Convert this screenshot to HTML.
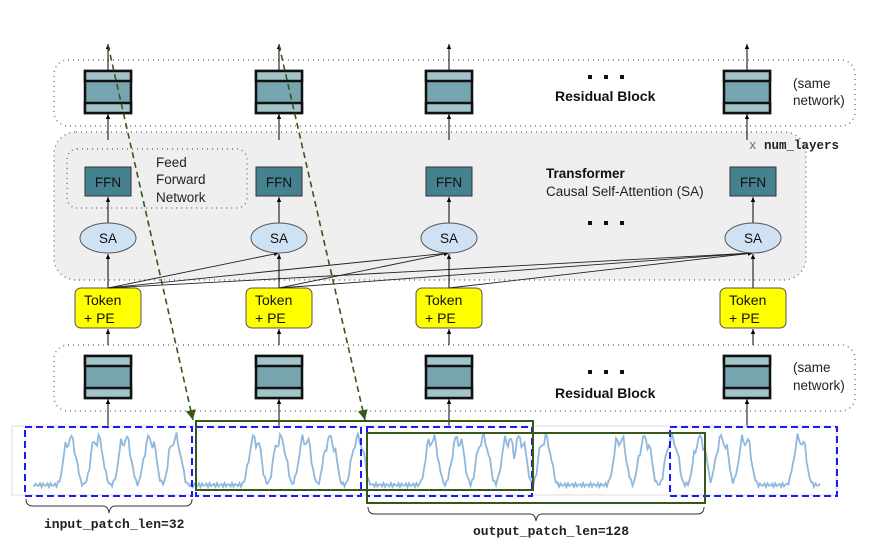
<!DOCTYPE html>
<html><head><meta charset="utf-8"><style>
html,body{margin:0;padding:0;background:#fff}
svg{display:block}
text{font-family:"Liberation Sans",sans-serif}
.mono{font-family:"Liberation Mono",monospace;font-weight:bold}
</style></head><body>
<svg id="s" width="878" height="546" viewBox="0 0 878 546" xmlns="http://www.w3.org/2000/svg">
<defs>
<marker id="sm" markerWidth="6" markerHeight="6" refX="5" refY="3" orient="auto" markerUnits="userSpaceOnUse"><path d="M0,0.8 L5,3 L0,5.2z" fill="#000"/></marker>
<marker id="ga" markerWidth="12" markerHeight="12" refX="10" refY="6" orient="auto" markerUnits="userSpaceOnUse"><path d="M0,1 L10,6 L0,11z" fill="#38571a"/></marker>
</defs>
<rect x="54" y="60" width="801" height="66" rx="14" fill="none" stroke="#777" stroke-width="1.5" stroke-dasharray="1,4"/>
<rect x="54" y="132" width="752" height="148" rx="22" fill="#efefef" stroke="#777" stroke-width="1.5" stroke-dasharray="1,4"/>
<rect x="67" y="149" width="180" height="59" rx="10" fill="none" stroke="#777" stroke-width="1.5" stroke-dasharray="1,4"/>
<rect x="54" y="345" width="801" height="66" rx="14" fill="none" stroke="#777" stroke-width="1.5" stroke-dasharray="1,4"/>
<g id="g"></g>
<text x="156" y="167" font-size="13.5" fill="#222">Feed</text>
<text x="156" y="184" font-size="13.5" fill="#222">Forward</text>
<text x="156" y="202" font-size="13.5" fill="#222">Network</text>
<text x="546" y="178" font-size="13.5" font-weight="bold" fill="#111">Transformer</text>
<text x="546" y="196" font-size="13.5" fill="#222">Causal Self-Attention (SA)</text>
<text x="555" y="101" font-size="14" font-weight="bold" fill="#111">Residual Block</text>
<text x="555" y="398" font-size="14" font-weight="bold" fill="#111">Residual Block</text>
<text x="793" y="88" font-size="13.5" fill="#222">(same</text>
<text x="793" y="105" font-size="13.5" fill="#222">network)</text>
<text x="793" y="372" font-size="13.5" fill="#222">(same</text>
<text x="793" y="390" font-size="13.5" fill="#222">network)</text>
<text x="749" y="149" font-size="12.5" class="mono" fill="#222"><tspan font-weight="normal" fill="#666">x </tspan>num_layers</text>
<text x="44" y="528" font-size="13" class="mono" fill="#222">input_patch_len=32</text>
<text x="473" y="535" font-size="13" class="mono" fill="#222">output_patch_len=128</text>
</svg>
<script>
var g=document.getElementById('g'),h='';
var cols=[108,279,449,747];
function blk(cx,y){return '<rect x="'+(cx-23)+'" y="'+y+'" width="46" height="42" fill="#76a5af" stroke="#111" stroke-width="2.5"/><rect x="'+(cx-23)+'" y="'+y+'" width="46" height="10" fill="#a2c4c9" stroke="#111" stroke-width="2.5"/><rect x="'+(cx-23)+'" y="'+(y+32)+'" width="46" height="10" fill="#a2c4c9" stroke="#111" stroke-width="2.5"/>';}
var sa=[108,279,449,753];
for(var i=0;i<4;i++){var c=cols[i],s=sa[i];
h+='<line x1="'+c+'" y1="71" x2="'+c+'" y2="44" stroke="#000" marker-end="url(#sm)"/>';
h+=blk(c,71);
h+='<line x1="'+c+'" y1="140" x2="'+c+'" y2="114" stroke="#000" marker-end="url(#sm)"/>';
h+='<rect x="'+(s-23)+'" y="167" width="46" height="29" fill="#45818e" stroke="#333"/><text x="'+s+'" y="187" font-size="13.5" text-anchor="middle" fill="#111">FFN</text>';
h+='<line x1="'+s+'" y1="223" x2="'+s+'" y2="197" stroke="#000" marker-end="url(#sm)"/>';
h+='<ellipse cx="'+s+'" cy="238" rx="28" ry="15" fill="#cfe2f3" stroke="#555"/><text x="'+s+'" y="243" font-size="13.5" text-anchor="middle" fill="#111">SA</text>';
h+='<line x1="'+s+'" y1="288" x2="'+s+'" y2="254" stroke="#000" marker-end="url(#sm)"/>';
h+='<rect x="'+(s-33)+'" y="288" width="66" height="40" rx="6" fill="#ffff00" stroke="#555"/><text x="'+(s-24)+'" y="305" font-size="14" fill="#111">Token</text><text x="'+(s-24)+'" y="323" font-size="14" fill="#111">+ PE</text>';
h+='<line x1="'+s+'" y1="345" x2="'+s+'" y2="329" stroke="#000" marker-end="url(#sm)"/>';
h+=blk(c,356);
h+='<line x1="'+c+'" y1="427" x2="'+c+'" y2="399" stroke="#000" marker-end="url(#sm)"/>';
for(var j=i+1;j<4;j++)h+='<line x1="'+s+'" y1="288" x2="'+sa[j]+'" y2="253" stroke="#222" stroke-width="0.9" marker-end="url(#sm)"/>';
}
function dots(y){for(var k=0;k<3;k++)h+='<rect x="'+(588+k*16)+'" y="'+y+'" width="4" height="4" fill="#111"/>';}
dots(75);dots(370);dots(221);
h+='<rect x="12" y="426" width="824" height="69" fill="none" stroke="#ddd"/>';
var peaks=[70,97,125,150,175,255,280,305,330,358,432,458,483,508,520,545,620,645,672,700,722,745,800];
var pts=[];for(var x=34;x<=820;x+=1.5){var y=485+Math.sin(x*1.7)*2;var m=0;for(var k=0;k<peaks.length;k++){var d=(x-peaks[k])/8;var v=Math.exp(-Math.pow(Math.abs(d),3));if(v>m)m=v;}y-=m*(45+6*Math.sin(x*0.9));pts.push(x.toFixed(1)+','+y.toFixed(1));}
h+='<polyline points="'+pts.join(' ')+'" fill="none" stroke="#8fb8dc" stroke-width="1.8"/>';
[[25,192],[196,361],[367,532],[670,837]].forEach(function(b){h+='<rect x="'+b[0]+'" y="427" width="'+(b[1]-b[0])+'" height="69" fill="none" stroke="#1a1aff" stroke-width="2" stroke-dasharray="7,4"/>';});
h+='<rect x="196" y="421" width="337" height="69" fill="none" stroke="#38571a" stroke-width="2"/>';
h+='<rect x="367" y="433" width="338" height="70" fill="none" stroke="#38571a" stroke-width="2"/>';
h+='<line x1="108" y1="45" x2="193" y2="420" stroke="#38571a" stroke-width="1.6" stroke-dasharray="6,4" marker-end="url(#ga)"/>';
h+='<line x1="279" y1="45" x2="365" y2="420" stroke="#38571a" stroke-width="1.6" stroke-dasharray="6,4" marker-end="url(#ga)"/>';
h+='<path d="M26,499 Q26,506 33,506 L103,506 Q108,506 109,513 Q110,506 115,506 L185,506 Q192,506 192,499" fill="none" stroke="#333"/>';
h+='<path d="M368,507 Q368,514 375,514 L530,514 Q535,514 536,521 Q537,514 542,514 L697,514 Q704,514 704,507" fill="none" stroke="#333"/>';
g.innerHTML=h;
</script>
</body></html>
